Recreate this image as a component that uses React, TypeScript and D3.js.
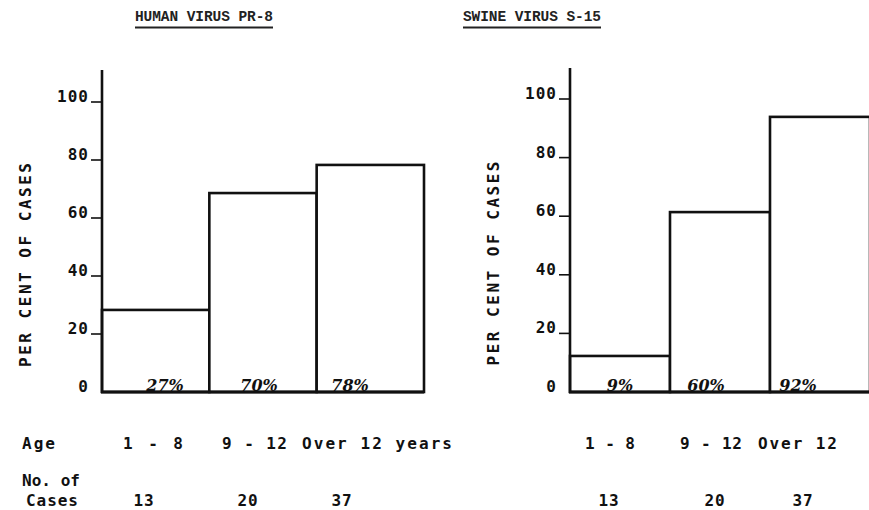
import React from "react";
import * as d3 from "d3";

// ---- data ----
const categoriesLeft = ["1 - 8", "9 - 12", "Over 12 years"];
const categoriesRight = ["1 - 8", "9 - 12", "Over 12"];
const humanHeights = [28.3, 68.6, 78.3];
const swineHeights = [12.3, 61.4, 93.9];
const humanLabels = ["27%", "70%", "78%"];
const swineLabels = ["9%", "60%", "92%"];
const caseCounts = [13, 20, 37];
const yTicks = [0, 20, 40, 60, 80, 100];
const titles = ["HUMAN VIRUS PR-8", "SWINE VIRUS S-15"];
const yAxisTitle = "PER CENT OF CASES";

const W = 869;
const H = 510;
const MONO = "'DejaVu Sans Mono', 'Liberation Mono', monospace";
const TITLE_FONT = "'Liberation Mono', 'DejaVu Sans Mono', monospace";
const ITAL = "'DejaVu Serif', 'Liberation Serif', serif";
const INK = "#111";

type PanelCfg = {
  title: string;
  titleX: number;
  cats: string[];
  heights: number[];
  labels: string[];
  axisX: number;
  barEnd: number;
  y0: number;
  y100: number;
  axisTop: number;
  yTitleX: number;
  ageX: number[];
  ageW: number[];
  caseX: number[];
  pctX: number[];
};

const panels: PanelCfg[] = [
  {
    title: titles[0],
    titleX: 204,
    cats: categoriesLeft,
    heights: humanHeights,
    labels: humanLabels,
    axisX: 102,
    barEnd: 424,
    y0: 392,
    y100: 102,
    axisTop: 70,
    yTitleX: 25,
    ageX: [123, 222, 302],
    ageW: [60, 65, 150],
    caseX: [144, 248, 342],
    pctX: [165, 259, 350],
  },
  {
    title: titles[1],
    titleX: 532,
    cats: categoriesRight,
    heights: swineHeights,
    labels: swineLabels,
    axisX: 570,
    barEnd: 870,
    y0: 392,
    y100: 99,
    axisTop: 68,
    yTitleX: 493,
    ageX: [585, 680, 758],
    ageW: [50, 62, 79],
    caseX: [609, 715, 803],
    pctX: [620, 706, 798],
  },
];

const Panel: React.FC<{ p: PanelCfg }> = ({ p }) => {
  const x = d3.scaleBand<string>().domain(p.cats).range([p.axisX, p.barEnd]).padding(0);
  const y = d3.scaleLinear().domain([0, 100]).range([p.y0, p.y100]);
  const titleW = 138;
  return (
    <g>
      {/* title */}
      <text
        x={p.titleX}
        y={21}
        textAnchor="middle"
        fontFamily={TITLE_FONT}
        fontSize={14.5}
        fontWeight="bold"
        fill="#222"
        textLength={titleW}
        lengthAdjust="spacing"
      >
        {p.title}
      </text>
      <line
        x1={p.titleX - titleW / 2}
        x2={p.titleX + titleW / 2}
        y1={27.5}
        y2={27.5}
        stroke="#222"
        strokeWidth={1.8}
      />
      {/* bars */}
      {p.heights.map((v, i) => (
        <rect
          key={i}
          x={x(p.cats[i])!}
          y={y(v)}
          width={x.bandwidth()}
          height={y(0) - y(v)}
          fill="white"
          stroke={INK}
          strokeWidth={2.6}
        />
      ))}
      {/* y axis */}
      <line x1={p.axisX} x2={p.axisX} y1={p.axisTop} y2={y(0) + 1} stroke={INK} strokeWidth={2.6} />
      {/* baseline */}
      <line x1={p.axisX - 1} x2={p.barEnd} y1={y(0)} y2={y(0)} stroke={INK} strokeWidth={3} />
      {yTicks.map((t) => (
        <g key={t}>
          {t > 0 && (
            <line x1={p.axisX - 11} x2={p.axisX} y1={y(t)} y2={y(t)} stroke={INK} strokeWidth={1.6} />
          )}
          <text
            x={p.axisX - 13}
            y={y(t)}
            textAnchor="end"
            fontFamily={MONO}
            fontSize={16}
            fontWeight="bold"
            letterSpacing={1}
            fill={INK}
          >
            {t}
          </text>
        </g>
      ))}
      {/* y title */}
      <text
        transform={`translate(${p.yTitleX},${(y(0) + y(100)) / 2 + 18}) rotate(-90)`}
        textAnchor="middle"
        dominantBaseline="central"
        fontFamily={MONO}
        fontSize={16}
        fontWeight="bold"
        textLength={204}
        lengthAdjust="spacing"
        fill={INK}
      >
        {yAxisTitle}
      </text>
      {/* percent labels */}
      {p.labels.map((l, i) => (
        <text
          key={i}
          x={p.pctX[i]}
          y={y(0) - 1}
          textAnchor="middle"
          fontFamily={ITAL}
          fontStyle="italic"
          fontWeight="bold"
          fontSize={16}
          fill={INK}
        >
          {l}
        </text>
      ))}
      {/* age row */}
      {p.cats.map((c, i) => (
        <text
          key={c}
          x={p.ageX[i]}
          y={449}
          fontFamily={MONO}
          fontSize={16}
          fontWeight="bold"
          textLength={p.ageW[i]}
          lengthAdjust="spacing"
          fill={INK}
          style={{ whiteSpace: "pre" }}
        >
          {c}
        </text>
      ))}
      {/* case counts */}
      {caseCounts.map((n, i) => (
        <text
          key={n}
          x={p.caseX[i]}
          y={506}
          textAnchor="middle"
          fontFamily={MONO}
          fontSize={16}
          fontWeight="bold"
          letterSpacing={0.8}
          fill={INK}
        >
          {n}
        </text>
      ))}
    </g>
  );
};

export default function App() {
  return (
    <svg
      width={W}
      height={H}
      viewBox={`0 0 ${W} ${H}`}
      style={{ position: "absolute", left: 0, top: 0, background: "white" }}
    >
      {panels.map((p, i) => (
        <Panel key={i} p={p} />
      ))}
      <text x={22} y={449} fontFamily={MONO} fontSize={16} fontWeight="bold" textLength={33} lengthAdjust="spacing" fill={INK}>
        Age
      </text>
      <text x={22} y={486} fontFamily={MONO} fontSize={16} fontWeight="bold" textLength={58} lengthAdjust="spacing" fill={INK} style={{ whiteSpace: "pre" }}>
        No. of
      </text>
      <text x={26} y={506} fontFamily={MONO} fontSize={16} fontWeight="bold" textLength={52} lengthAdjust="spacing" fill={INK}>
        Cases
      </text>
    </svg>
  );
}
